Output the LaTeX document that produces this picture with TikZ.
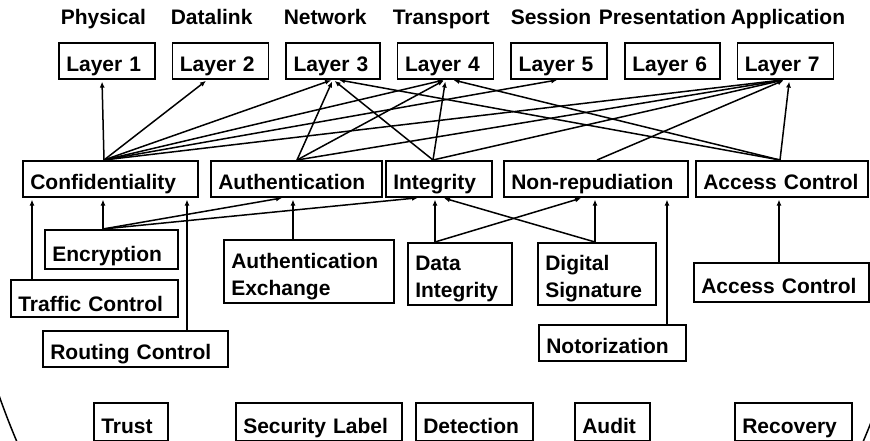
\documentclass[tikz,border=0pt]{standalone}
\usepackage{fontspec}
\setmainfont{Liberation Sans}
\usetikzlibrary{arrows.meta,positioning}

\tikzset{
  svc/.style={draw, line width=1.6pt, inner xsep=7.5pt, inner ysep=0pt,
    anchor=north west, align=left, text height=29pt, text depth=7pt},
  lbl/.style={anchor=base west, inner sep=0pt},
}

\begin{document}
\begin{tikzpicture}[x=1pt,y=-1pt,line width=1.5pt,
    font=\fontsize{21}{27}\selectfont\bfseries,
    >={Latex[length=6pt,width=5pt]},shorten >=2pt,node distance=16pt]
\useasboundingbox (0,0) rectangle (870,441);

% OSI layers
\node[svc,text width=81pt] (l1) at (58,42) {Layer 1};
\node[svc,text width=81pt,right=of l1] (l2) {Layer 2};
\node[svc,text width=79pt,right=of l2] (l3) {Layer 3};
\node[svc,text width=81pt,right=of l3] (l4) {Layer 4};
\node[svc,text width=81pt,right=of l4] (l5) {Layer 5};
\node[svc,text width=80pt,right=of l5] (l6) {Layer 6};
\node[svc,text width=81pt,right=of l6] (l7) {Layer 7};

\node[lbl] (phys)  at (60,25)  {Physical};
\node[lbl] (dlink) at (170,25) {Datalink};
\node[lbl] (netw)  at (283,25) {Network};
\node[lbl] (trans) at (392,25) {Transport};
\node[lbl] (sess)  at (510,25) {Session};
\node[lbl] (pres)  at (598,25) {Presentation};
\node[lbl] (appl)  at (730,25) {Application};

% services
\node[svc,text width=160pt] (conf)   at (22,160)  {Confidentiality};
\node[svc,text width=156pt] (auth)   at (210,160) {Authentication};
\node[svc,text width=91pt]  (integ)  at (385,160) {Integrity};
\node[svc,text width=169pt] (nonrep) at (503,160) {\mbox{Non-repudiation}};
\node[svc,text width=157pt] (acc)    at (695,160) {Access Control};

% mechanisms
\node[svc,text width=118pt,text height=32pt] (enc) at (44,229) {Encryption};
\node[svc,text width=152pt,text height=32pt,text depth=5pt] (traffic) at (10,279) {Traffic Control};
\node[svc,text width=170pt] (routing) at (42,330) {Routing Control};
\node[svc,text width=155pt,text depth=34pt] (authx) at (223,239) {Authentication\\Exchange};
\node[svc,text width=89pt,text height=28pt,text depth=34pt] (dint) at (407,242) {Data\\Integrity};
\node[svc,text width=103pt,text height=28pt,text depth=34pt] (dsig) at (537,242) {Digital\\Signature};
\node[svc,text width=132pt] (nota) at (538,324) {Notorization};
\node[svc,text width=160pt,text height=31pt,text depth=8pt] (accl) at (693,262) {Access Control};

% other services
\node[svc,text width=59pt,text height=31pt]  (trust)  at (93,402)  {Trust};
\node[svc,text width=151pt,text height=31pt] (seclab) at (235,402) {Security Label};
\node[svc,text width=102pt,text height=31pt] (detect) at (415,402) {Detection};
\node[svc,text width=60pt,text height=31pt]  (audit)  at (574,402) {Audit};
\node[svc,text width=102pt,text height=31pt] (recov)  at (734,402) {Recovery};

\begin{scope}
\clip (0,0) rectangle (870,441);
\draw (440,100) ellipse [x radius=490, y radius=677];
\end{scope}

% services to layers
\path[->]
 ([xshift=82pt]conf.north west) edge ([xshift=44pt]l1.south west)
 ([xshift=82pt]conf.north west) edge ([xshift=36pt]l2.south west)
 ([xshift=82pt]conf.north west) edge (l3.south)
 ([xshift=82pt]conf.north west) edge (l4.south)
 ([xshift=82pt]conf.north west) edge (l5.south)
 ([xshift=82pt]conf.north west) edge (l7.south)
 ([xshift=87pt]auth.north west) edge (l3.south)
 ([xshift=87pt]auth.north west) edge (l4.south)
 ([xshift=87pt]auth.north west) edge (l7.south)
 ([xshift=48pt]integ.north west) edge (l3.south)
 ([xshift=48pt]integ.north west) edge (l4.south)
 ([xshift=48pt]integ.north west) edge (l7.south)
 ([xshift=94pt]nonrep.north west) edge (l7.south)
 ([xshift=85pt]acc.north west) edge ([xshift=4pt]l3.south)
 ([xshift=85pt]acc.north west) edge ([xshift=6pt]l4.south)
 ([xshift=85pt]acc.north west) edge ([xshift=4pt]l7.south);

% mechanisms to services
\path[->]
 ([xshift=59pt]enc.north west) edge ([xshift=81pt]conf.south west)
 ([xshift=59pt]enc.north west) edge ([xshift=74pt]auth.south west)
 ([xshift=59pt]enc.north west) edge ([xshift=35pt]integ.south west)
 ([xshift=22pt]traffic.north west) edge ([xshift=10pt]conf.south west)
 ([xshift=145pt]routing.north west) edge ([xshift=165pt]conf.south west)
 ([xshift=70pt]authx.north west) edge ([xshift=83pt]auth.south west)
 ([xshift=28pt]dint.north west) edge ([xshift=50pt]integ.south west)
 ([xshift=28pt]dint.north west) edge ([xshift=80pt]nonrep.south west)
 ([xshift=58pt]dsig.north west) edge ([xshift=57pt]integ.south west)
 ([xshift=58pt]dsig.north west) edge ([xshift=92pt]nonrep.south west)
 ([xshift=129pt]nota.north west) edge ([xshift=164pt]nonrep.south west)
 ([xshift=86pt]accl.north west) edge ([xshift=84pt]acc.south west);
\end{tikzpicture}
\end{document}
